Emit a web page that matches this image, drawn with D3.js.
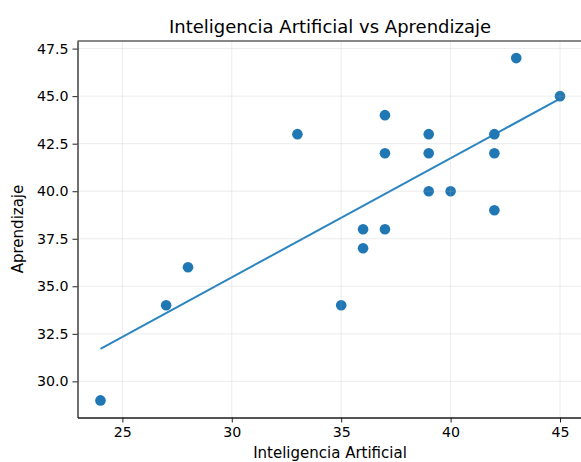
<!DOCTYPE html>
<html><head><meta charset="utf-8">
<script src="https://cdn.jsdelivr.net/npm/d3@7"></script>
<style>body{margin:0;background:#fff}svg{display:block}text{font-family:"DejaVu Sans",sans-serif;fill:#000}</style>
</head><body><svg id="c" width="581" height="462"></svg>
<script>
const iaValues = [24,27,28,33,35,36,36,37,37,37,39,39,39,40,42,42,42,43,45];
const aprValues = [29,34,36,43,34,38,37,44,42,38,43,42,40,40,43,42,39,47,45];
const xTicks = [25,30,35,40,45];
const yTicks = [30.0,32.5,35.0,37.5,40.0,42.5,45.0,47.5];
const title = "Inteligencia Artificial vs Aprendizaje";
const xLabel = "Inteligencia Artificial";
const yLabel = "Aprendizaje";

const svg = d3.select("#c");
const L = 77.5, R = 583, T = 41, B = 417.5;
const x = d3.scaleLinear().domain([22.95, 46.05]).range([L, R]);
const y = d3.scaleLinear().domain([28.1, 47.9]).range([B, T]);

// regression fit
const mx = d3.mean(iaValues), my = d3.mean(aprValues);
let sxy = 0, sxx = 0;
iaValues.forEach((v,i)=>{ sxy += (v-mx)*(aprValues[i]-my); sxx += (v-mx)*(v-mx); });
const slope = sxy/sxx, icpt = my - slope*mx;
const xs = d3.extent(iaValues);
const fit = xs.map(v=>[v, icpt + slope*v]);

const plot = svg.append("g");
plot.append("path").datum(fit)
  .attr("d", d3.line().x(d=>x(d[0])).y(d=>y(d[1])))
  .attr("fill","none").attr("stroke","#2a85c0").attr("stroke-width",2);
plot.selectAll("circle").data(iaValues).join("circle")
  .attr("cx",d=>x(d)).attr("cy",(d,i)=>y(aprValues[i])).attr("r",5.3)
  .attr("fill","#1f77b4");

// grid
const grid = svg.append("g").attr("stroke","#b0b0b0").attr("stroke-opacity",0.3).attr("stroke-width",0.8);
grid.selectAll(".gx").data(xTicks).join("line")
  .attr("x1",d=>x(d)).attr("x2",d=>x(d)).attr("y1",T).attr("y2",B);
grid.selectAll(".gy").data(yTicks).join("line")
  .attr("x1",L).attr("x2",R).attr("y1",d=>y(d)).attr("y2",d=>y(d));

// axes
const xa = svg.append("g").attr("transform",`translate(0,${B})`)
  .call(d3.axisBottom(x).tickValues(xTicks).tickSize(5).tickSizeOuter(0).tickPadding(4).tickFormat(d3.format("d")));
const ya = svg.append("g").attr("transform",`translate(${L},0)`)
  .call(d3.axisLeft(y).tickValues(yTicks).tickSize(5).tickSizeOuter(0).tickPadding(4).tickFormat(d3.format(".1f")));
[xa,ya].forEach(a=>{a.selectAll("text").attr("font-size",14.2).attr("font-family","DejaVu Sans").attr("fill","#222");
  a.selectAll(".tick line").attr("stroke","#222");});
xa.select(".domain").attr("stroke","#555").attr("stroke-width",2.2);
ya.select(".domain").attr("stroke","#111").attr("stroke-width",1.2);
svg.append("line").attr("x1",L).attr("x2",R).attr("y1",T).attr("y2",T).attr("stroke","#111").attr("stroke-width",1.2);

svg.append("text").attr("x",330).attr("y",33).attr("text-anchor","middle").attr("font-size",18).text(title);
svg.append("text").attr("x",330).attr("y",457.5).attr("text-anchor","middle").attr("font-size",15).attr("fill","#222").text(xLabel);
svg.append("text").attr("transform",`translate(23,229) rotate(-90)`).attr("text-anchor","middle").attr("font-size",15).attr("fill","#222").text(yLabel);
</script></body></html>
